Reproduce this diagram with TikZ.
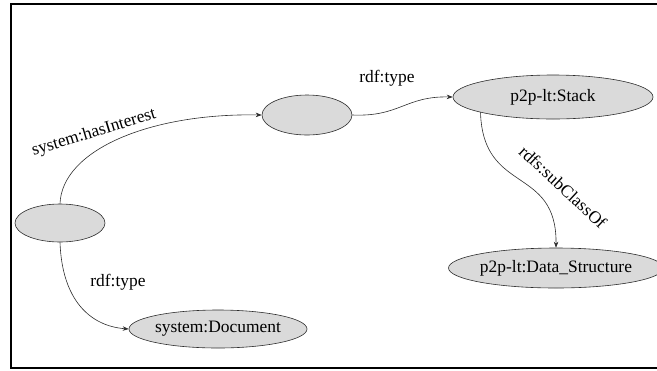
\documentclass[tikz,border=0pt]{standalone}
\usepackage{fontspec}
\setmainfont{Liberation Serif}
\usetikzlibrary{shapes.geometric,arrows.meta}
\definecolor{nodefill}{RGB}{218,218,218}
\definecolor{inkline}{RGB}{45,45,45}
\begin{document}
\begin{tikzpicture}[x=1bp,y=-1bp,
  rdfnode/.style={ellipse,draw=inkline,fill=nodefill,line width=0.6bp,inner sep=0pt,
    font=\fontsize{17.5}{20}\selectfont},
  rel/.style={draw=inkline,line width=0.6bp,-{Stealth[length=6bp,width=4.5bp]}},
  lbl/.style={font=\fontsize{17.5}{20}\selectfont,inner sep=0pt}]
  \useasboundingbox (0,0) rectangle (657,370);
  % frame
  \draw[line width=2bp] (657,3.5) -- (11,3.5) -- (11,368) -- (657,368);

  % nodes
  \node[rdfnode,minimum width=90bp,minimum height=40bp] (bnA) at (307,115) {};
  \node[rdfnode,minimum width=90bp,minimum height=38bp] (bnB) at (60,223) {};
  \node[rdfnode,minimum width=200bp,minimum height=44bp] (stack) at (553,97) {p2p-lt:Stack};
  \node[rdfnode,minimum width=188bp,minimum height=40bp] (ds) at (556,268) {p2p-lt:Data\_Structure};
  \node[rdfnode,minimum width=170bp,minimum height=38bp] (doc) at (218,329) {system:Document};

  % connectors
  \draw[rel] (bnB.north) .. controls (62,150) and (150,113) .. (bnA.west);
  \draw[rel] (bnA.east) .. controls (400,117) and (405,96) .. (stack.west);
  \draw[rel] (stack.192.6) .. controls (483,195) and (557,165) .. (ds.north);
  \draw[rel] (bnB.south) .. controls (62,300) and (90,326) .. (doc.west);

  % labels
  \node[lbl,rotate=17] (l1) at (94,133) {system:hasInterest};
  \node[lbl] (l2) at (387,78) {rdf:type};
  \node[lbl,rotate=-43] (l3) at (563,187) {rdfs:subClassOf};
  \node[lbl] (l4) at (118,282) {rdf:type};
\end{tikzpicture}
\end{document}
